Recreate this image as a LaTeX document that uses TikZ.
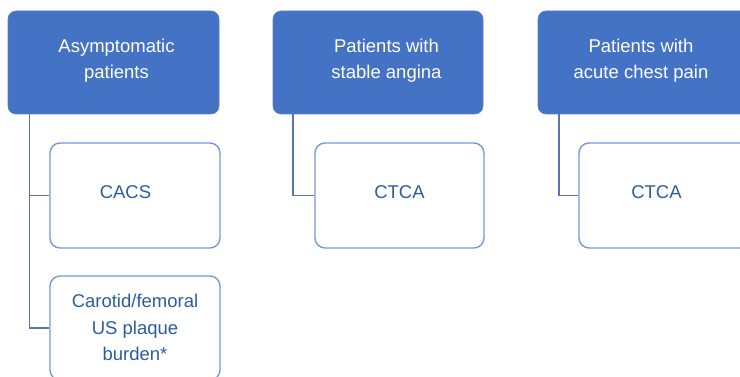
\documentclass[tikz,border=0pt]{standalone}
\usepackage{fontspec}
\setmainfont{Liberation Sans}
\definecolor{hdrfill}{HTML}{4472C4}
\definecolor{childborder}{HTML}{7499D9}
\definecolor{conncol}{HTML}{5775B0}
\definecolor{childtext}{HTML}{2B5E9F}
\begin{document}
\begin{tikzpicture}[x=1pt,y=-1pt,
  hdrbox/.style={rectangle, rounded corners=8pt, fill=hdrfill, draw=hdrfill!90!white, line width=0.6pt, minimum height=103pt, inner sep=0pt},
  childbox/.style={rectangle, rounded corners=10pt, fill=white, draw=childborder, line width=1.4pt, minimum height=105pt, minimum width=170pt, inner sep=0pt},
  hdrtext/.style={text=white, font=\fontsize{18.5}{26.5}\selectfont, align=center, anchor=base, inner sep=0pt},
  childtxt/.style={text=childtext, font=\fontsize{18.5}{26.5}\selectfont, align=center, anchor=base, inner sep=0pt},
  conn/.style={draw=conncol, line width=1.2pt}]
\useasboundingbox (0,0) rectangle (740,377);
\clip (0,0) rectangle (740,377);
% header boxes
\node[hdrbox, minimum width=211pt] (h1) at (113.5,62.5) {};
\node[hdrbox, minimum width=210pt] (h2) at (378,62.5) {};
\node[hdrbox, minimum width=210pt] (h3) at (643,62.5) {};
% child boxes
\node[childbox] (c1) at (135,195.5) {};
\node[childbox, minimum height=104pt] (c2) at (135,328) {};
\node[childbox, minimum width=169pt] (c3) at (399.5,195.5) {};
\node[childbox, minimum width=171pt] (c4) at (664.5,195.5) {};
% connectors
\draw[conn] ([xshift=22pt]h1.south west) |- (c1.west);
\draw[conn] ([xshift=22pt]h1.south west) |- (c2.west);
\draw[conn] ([xshift=20.3pt]h2.south west) |- (c3.west);
\draw[conn] ([xshift=21.3pt]h3.south west) |- (c4.west);
% texts (base anchor = baseline of last line)
\node[hdrtext] (t1) at (116.5,79) {Asymptomatic\\patients};
\node[hdrtext] (t2) at (386.5,79) {Patients with\\stable angina};
\node[hdrtext] (t3) at (641,79) {Patients with\\acute chest pain};
\node[childtxt] (tc1) at (125.5,199) {CACS};
\node[childtxt] (tc2) at (135,360.7) {Carotid/femoral\\US plaque\\burden*};
\node[childtxt] (tc3) at (399.5,199) {CTCA};
\node[childtxt] (tc4) at (656.5,199) {CTCA};
\end{tikzpicture}
\end{document}
